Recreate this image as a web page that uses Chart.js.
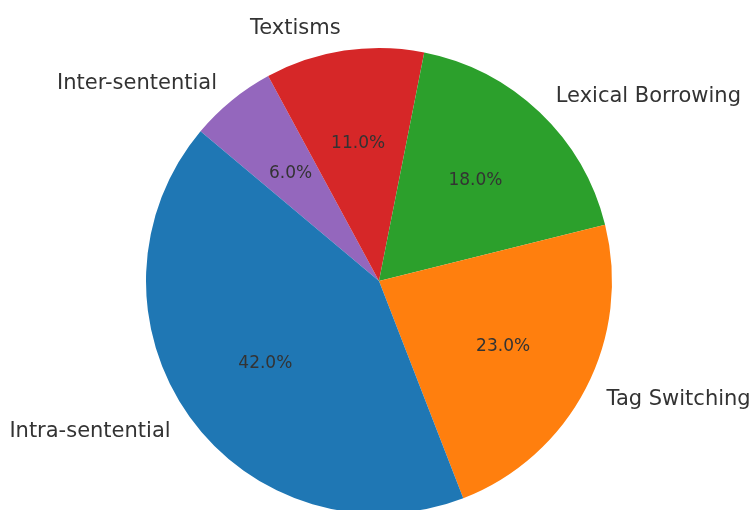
<!DOCTYPE html>
<html lang="en">
<head>
  <meta charset="utf-8">
  <script src="https://cdn.jsdelivr.net/npm/chart.js@4.4.1/dist/chart.umd.min.js"></script>
  <style>
    html, body {
      margin: 0;
      padding: 0;
      background: #fff;
      overflow: hidden;
    }
    .chart-box {
      position: absolute;
      left: 0;
      top: 0;
      width: 750px;
      height: 560px;
    }
  </style>
</head>
<body>
  <div class="chart-box">
    <canvas id="pieChart"></canvas>
  </div>

  <script>
    // drawn clockwise, so the order is reversed from the matplotlib one
    const categories = ['Inter-sentential', 'Textisms', 'Lexical Borrowing', 'Tag Switching', 'Intra-sentential'];
    const shares = [6, 11, 18, 23, 42];
    const sliceColors = ['#9467bd', '#d62728', '#2ca02c', '#ff7f0e', '#1f77b4'];

    // labels outside at 1.1 r, percentages inside at 0.6 r
    const sliceLabels = {
      id: 'sliceLabels',
      afterDatasetsDraw(chart) {
        const ctx = chart.ctx;
        const meta = chart.getDatasetMeta(0);
        const total = shares.reduce((a, b) => a + b, 0);
        ctx.save();
        meta.data.forEach((arc, i) => {
          const p = arc.getProps(['x', 'y', 'startAngle', 'endAngle', 'outerRadius'], true);
          const mid = (p.startAngle + p.endAngle) / 2;
          const cos = Math.cos(mid);
          const sin = Math.sin(mid);

          ctx.textBaseline = 'middle';
          ctx.fillStyle = '#333333';
          ctx.font = '21px "DejaVu Sans"';
          ctx.textAlign = cos > 0 ? 'left' : 'right';
          ctx.fillText(categories[i], p.x + cos * p.outerRadius * 1.1, p.y + sin * p.outerRadius * 1.1 + 1);

          ctx.font = '17px "DejaVu Sans"';
          ctx.textAlign = 'center';
          const pct = (shares[i] / total * 100).toFixed(1) + '%';
          ctx.fillText(pct, p.x + cos * p.outerRadius * 0.6, p.y + sin * p.outerRadius * 0.6 + 1);
        });
        ctx.restore();
      }
    };

    new Chart(document.getElementById('pieChart'), {
      type: 'pie',
      data: {
        labels: categories,
        datasets: [{
          data: shares,
          backgroundColor: sliceColors,
          borderWidth: 0
        }]
      },
      options: {
        responsive: true,
        maintainAspectRatio: false,
        animation: false,
        rotation: -50,
        layout: {
          padding: { top: 48, bottom: 46, left: 146, right: 138 }
        },
        plugins: {
          legend: { display: false },
          tooltip: { enabled: false }
        },
        events: []
      },
      plugins: [sliceLabels]
    });
  </script>
</body>
</html>
